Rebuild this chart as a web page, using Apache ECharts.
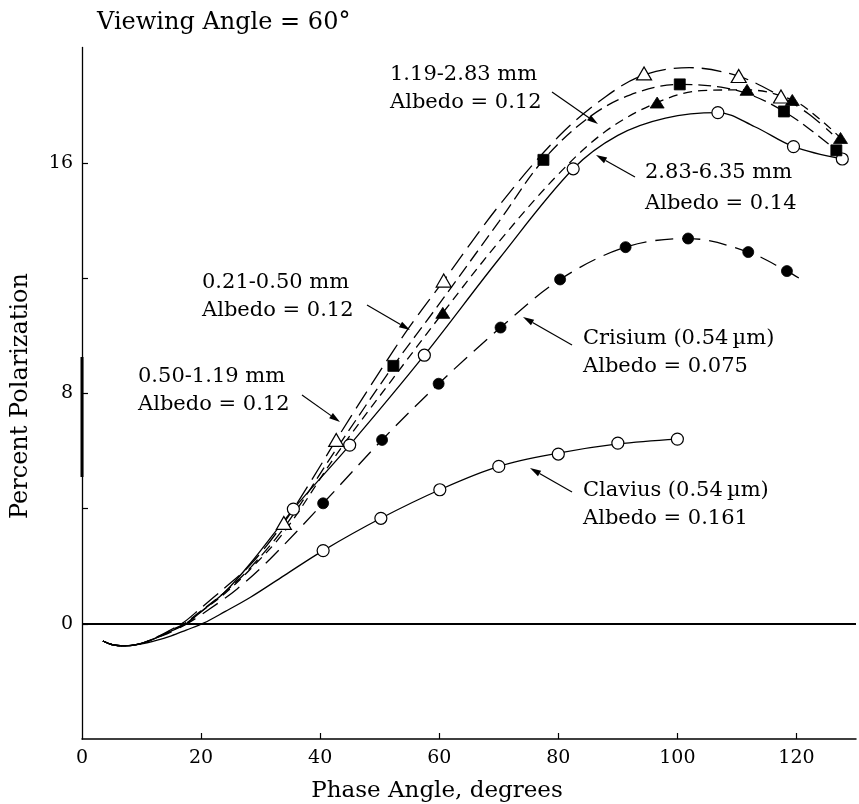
<!DOCTYPE html>
<html>
<head>
<meta charset="utf-8">
<script src="https://cdn.jsdelivr.net/npm/echarts@6/dist/echarts.min.js"></script>
<style>
  html, body { margin: 0; padding: 0; background: #fff; }
  #chart { width: 859px; height: 804px; }
</style>
</head>
<body>
<div id="chart"></div>
<script>
// Percent polarization versus phase angle (degrees), viewing angle 60°.
// Each sample has a fitted curve and its measured points.

const curve021 = [[3.5,-0.6],[5,-0.72],[7,-0.77],[10,-0.68],[13,-0.42],[15,-0.2],[17.1,0.05],[20,0.55],[24,1.25],[28.3,2.05],[33.9,3.5],[38,4.8],[42.7,6.38],[50,8.75],[55,10.3],[60.75,11.91],[70,14.5],[80,16.9],[88,18.3],[94.4,19.05],[102,19.3],[110.3,19.0],[117.4,18.3],[122,17.7],[126,17.0]];
const points021 = [[33.9,3.5],[42.7,6.38],[60.75,11.91],[94.4,19.1],[110.3,19.01],[117.4,18.3]];

const curve050 = [[3.5,-0.6],[5,-0.72],[7,-0.77],[10,-0.68],[13,-0.43],[15,-0.22],[17.3,0.02],[20,0.45],[24,1.1],[28.3,1.95],[34,3.35],[43,6.15],[52.3,8.95],[60,11.1],[70,13.95],[77.5,16.1],[85,17.55],[92,18.35],[100.4,18.72],[108,18.6],[113,18.3],[117.9,17.78],[122,17.2],[126.7,16.43]];
const points050 = [[52.3,8.95],[77.5,16.1],[100.4,18.72],[117.9,17.78],[126.7,16.43]];

const curve119 = [[3.5,-0.6],[5,-0.72],[7,-0.77],[10,-0.68],[13,-0.44],[15,-0.24],[17.5,0.02],[20,0.42],[24,1.05],[28.3,1.9],[34,3.2],[43,5.95],[52,8.45],[60.6,10.79],[70,13.25],[80,15.6],[88,17.1],[96.6,18.09],[104,18.5],[111.7,18.53],[119.3,18.18],[124,17.5],[127.4,16.86]];
const points119 = [[60.6,10.79],[96.6,18.09],[111.7,18.53],[119.3,18.18],[127.4,16.86]];

const curve283 = [[3.5,-0.6],[5,-0.72],[7,-0.77],[10,-0.68],[13,-0.44],[15,-0.25],[17.5,0.0],[20,0.42],[24,1.1],[28.3,2.1],[35.5,3.98],[44.96,6.2],[57.5,9.32],[70,12.65],[82.5,15.79],[90,16.95],[98,17.55],[106.8,17.74],[113,17.25],[119.5,16.56],[127.7,16.13]];
const points283 = [[35.5,3.98],[44.96,6.2],[57.5,9.32],[82.5,15.79],[106.8,17.74],[119.5,16.56],[127.7,16.13]];

const curveCrisium = [[3.5,-0.6],[5,-0.72],[7,-0.77],[10,-0.68],[13,-0.45],[15,-0.28],[17.8,0.02],[21,0.45],[26,1.2],[31.6,2.25],[40.5,4.18],[50.4,6.38],[59.9,8.33],[70.3,10.28],[80.3,11.95],[91.3,13.07],[101.8,13.37],[111.9,12.9],[118.4,12.24],[120.4,12.0]];
const pointsCrisium = [[40.5,4.18],[50.4,6.38],[59.9,8.33],[70.3,10.28],[80.3,11.95],[91.3,13.07],[101.8,13.37],[111.9,12.9],[118.4,12.24]];

const curveClavius = [[3.5,-0.6],[5,-0.72],[7,-0.77],[10,-0.7],[12.5,-0.58],[15,-0.42],[17.5,-0.22],[20.4,0.02],[24,0.42],[28.3,0.92],[34,1.68],[40.5,2.54],[50.2,3.66],[60.1,4.65],[70,5.46],[80,5.92],[90,6.24],[100,6.41]];
const pointsClavius = [[40.5,2.54],[50.2,3.66],[60.1,4.65],[70,5.46],[80,5.89],[90,6.27],[100,6.41]];

const xLabelValues = [0, 20, 40, 60, 80, 100, 120];
const xTickValues = [20, 40, 60, 80, 100, 120];
const yLabelValues = [0, 8, 16];
const yTickValues = [0, 4, 8, 12, 16];

const titleText = 'Viewing Angle = 60°';
const xTitle = 'Phase Angle, degrees';
const yTitle = 'Percent Polarization';

const noteLines = [
  ['1.19-2.83 mm', 'Albedo = 0.12'],
  ['2.83-6.35 mm', 'Albedo = 0.14'],
  ['0.21-0.50 mm', 'Albedo = 0.12'],
  ['0.50-1.19 mm', 'Albedo = 0.12'],
  ['Crisium (0.54\u2009µm)', 'Albedo = 0.075'],
  ['Clavius (0.54\u2009µm)', 'Albedo = 0.161']
];

// Layout of the annotations (pixels): text anchor and arrow tail/head.
const noteLayout = [
  { x: 390, y: 75, gap: 28, tail: [552, 92], head: [598, 124] },
  { x: 645, y: 173, gap: 31, tail: [635, 177], head: [596, 155] },
  { x: 202, y: 283, gap: 28, tail: [367, 305], head: [410, 330] },
  { x: 138, y: 377, gap: 28, tail: [302, 395], head: [340, 422] },
  { x: 583, y: 339, gap: 28, tail: [572, 345], head: [523, 317] },
  { x: 583, y: 491, gap: 28, tail: [572, 492], head: [530, 468] }
];

const SERIF = '"DejaVu Serif", "Liberation Serif", serif';
const INK = '#000';

function curve(name, data, dash) {
  return {
    type: 'line', name, data, smooth: 0.35, symbol: 'none', showSymbol: false,
    silent: true, z: 2,
    lineStyle: { color: INK, width: 1.3, type: dash || 'solid' }
  };
}
function marks(name, data, symbol, size, filled) {
  return {
    type: 'scatter', name, data, symbol, symbolSize: size, silent: true, z: 5,
    itemStyle: filled
      ? { color: INK, borderColor: INK, borderWidth: 0.8, opacity: 1 }
      : { color: '#fff', borderColor: INK, borderWidth: 1.2, opacity: 1 }
  };
}

const graphics = [];
graphics.push({ type: 'text', x: 97, y: 23, style: { text: titleText, font: '24px ' + SERIF, fill: INK, textAlign: 'left', textVerticalAlign: 'middle' } });
graphics.push({ type: 'text', x: 437, y: 791, style: { text: xTitle, font: '23px ' + SERIF, fill: INK, textAlign: 'center', textVerticalAlign: 'middle' } });
graphics.push({ type: 'text', x: 21, y: 396, rotation: Math.PI / 2, style: { text: yTitle, font: '24px ' + SERIF, fill: INK, textAlign: 'center', textVerticalAlign: 'middle' } });
// heavier stretch on the vertical axis
graphics.push({ type: 'rect', shape: { x: 80.5, y: 357, width: 3, height: 120 }, style: { fill: INK } });

noteLines.forEach((lines, i) => {
  const L = noteLayout[i];
  lines.forEach((t, k) => {
    graphics.push({ type: 'text', x: L.x, y: L.y + k * L.gap, style: { text: t, font: '21px ' + SERIF, fill: INK, textAlign: 'left', textVerticalAlign: 'middle' } });
  });
  const [x1, y1] = L.tail, [x2, y2] = L.head;
  const dx = x2 - x1, dy = y2 - y1, len = Math.hypot(dx, dy);
  const ux = dx / len, uy = dy / len, ah = 11, aw = 3.2;
  const bx = x2 - ux * ah, by = y2 - uy * ah;
  graphics.push({ type: 'line', shape: { x1, y1, x2: bx, y2: by }, style: { stroke: INK, lineWidth: 1.2 } });
  graphics.push({ type: 'polygon', shape: { points: [[x2, y2], [bx - uy * aw, by + ux * aw], [bx + uy * aw, by - ux * aw]] }, style: { fill: INK } });
});

const chart = echarts.init(document.getElementById('chart'), null, { renderer: 'canvas' });
chart.setOption({
  animation: false,
  backgroundColor: '#fff',
  grid: { left: 82, right: 3, top: 47.5, bottom: 65, containLabel: false, outerBoundsMode: 'none' },
  xAxis: {
    type: 'value', min: 0, max: 130, interval: 20,
    axisLine: { show: true, onZero: false, lineStyle: { color: INK, width: 1.5 } },
    axisTick: { show: true, inside: true, length: 6, customValues: xTickValues, lineStyle: { color: INK, width: 1.2 } },
    axisLabel: { customValues: xLabelValues, margin: 10, color: INK, fontFamily: SERIF, fontSize: 19 },
    splitLine: { show: false }
  },
  yAxis: {
    type: 'value', min: -4, max: 20, interval: 4,
    axisLine: { show: true, onZero: false, lineStyle: { color: INK, width: 1.3 } },
    axisTick: { show: true, inside: true, length: 6, customValues: yTickValues, lineStyle: { color: INK, width: 1.2 } },
    axisLabel: { customValues: yLabelValues, margin: 9, color: INK, fontFamily: SERIF, fontSize: 19 },
    splitLine: { show: false }
  },
  series: [
    Object.assign(curve('Clavius', curveClavius), {
      markLine: {
        silent: true, symbol: ['none', 'none'], label: { show: false },
        lineStyle: { color: INK, width: 2, type: 'solid' },
        data: [{ yAxis: 0 }]
      }
    }),
    curve('Crisium', curveCrisium, [18, 9]),
    curve('2.83-6.35 mm', curve283),
    curve('1.19-2.83 mm', curve119, [9, 6]),
    curve('0.50-1.19 mm', curve050, [13, 6]),
    curve('0.21-0.50 mm', curve021, [20, 8]),
    marks('Clavius', pointsClavius, 'circle', 12, false),
    marks('Crisium', pointsCrisium, 'circle', 11, true),
    marks('2.83-6.35 mm', points283, 'circle', 12, false),
    marks('1.19-2.83 mm', points119, 'triangle', [14, 11], true),
    marks('0.50-1.19 mm', points050, 'rect', 11, true),
    marks('0.21-0.50 mm', points021, 'triangle', [15, 13], false)
  ],
  graphic: graphics
});
</script>
</body>
</html>
